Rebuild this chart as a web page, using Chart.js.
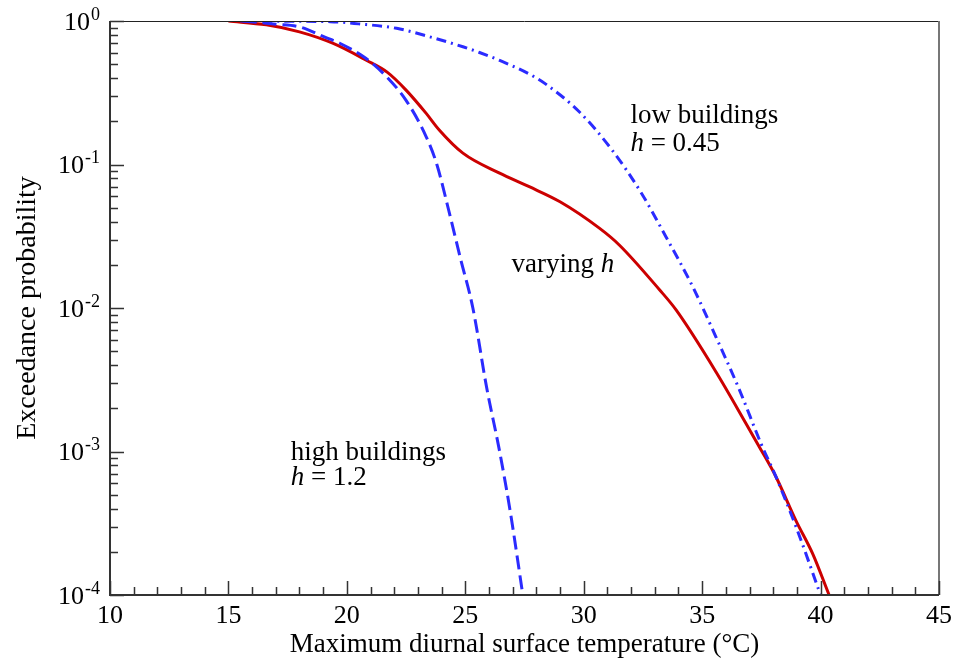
<!DOCTYPE html>
<html>
<head>
<meta charset="utf-8">
<script src="https://cdn.jsdelivr.net/npm/chart.js@4.4.1/dist/chart.umd.min.js"></script>
<style>
  html, body { margin: 0; padding: 0; background: #fff; }
  #wrap { width: 958px; height: 663px; }
</style>
</head>
<body>
<div id="wrap"><canvas id="exceedChart" width="958" height="663"></canvas></div>
<script>
// temperature (degC) and exceedance probability
const varyingT = [15.0, 16.6, 18.0, 19.4, 20.8, 21.7, 22.5, 23.35, 23.9, 24.9, 26.45, 27.7, 29.0, 30.66, 31.5, 33.2, 33.9, 35.58, 36.85, 37.41, 38.11, 38.96, 39.66, 40.36];
const varyingP = [1.0, 0.94, 0.84, 0.70, 0.535, 0.44, 0.33, 0.227, 0.174, 0.12, 0.087, 0.07, 0.055, 0.036, 0.0275, 0.0134, 0.0097, 0.0036, 0.00157, 0.00108, 0.00067, 0.00033, 0.000195, 0.0001];

const highT = [15.6, 17.0, 18.0, 19.0, 19.7, 20.8, 21.67, 22.5, 23.35, 23.8, 24.3, 24.8, 25.32, 25.9, 26.45, 26.9, 27.43];
const highP = [1.0, 0.95, 0.91, 0.78, 0.70, 0.55, 0.41, 0.28, 0.156, 0.1, 0.048, 0.022, 0.01, 0.0028, 0.001, 0.00038, 0.0001];

const lowT = [15.5, 17.5, 19.3, 20.5, 22.1, 23.5, 24.9, 25.6, 26.45, 27.7, 28.4, 29.8, 31.2, 32.4, 33.47, 34.6, 35.58, 36.57, 37.5, 38.11, 38.96, 40.0];
const lowP = [1.0, 0.995, 0.99, 0.955, 0.889, 0.776, 0.661, 0.603, 0.531, 0.427, 0.363, 0.234, 0.126, 0.0646, 0.0314, 0.0141, 0.0063, 0.0027, 0.00112, 0.00067, 0.0003, 0.0001];

const xTicks = [];
for (let t = 10; t <= 45; t++) xTicks.push(t);
const yMajor = [1, 0.1, 0.01, 0.001, 0.0001];
const yExp = ['0', '-1', '-2', '-3', '-4'];

const notes = [
  { x: 31.97, y: 0.1946, lines: [['low buildings']], },
  { x: 31.97, y: 0.124, lines: [['h', true], [' = 0.45']] },
  { x: 26.95, y: 0.0178, lines: [['varying '], ['h', true]] },
  { x: 17.63, y: 0.00087, lines: [['high buildings']] },
  { x: 17.63, y: 0.000585, lines: [['h', true], [' = 1.2']] }
];

const pts = (xs, ys) => xs.map((x, i) => ({ x: x, y: ys[i] }));
const SERIF = '"Liberation Serif", "Times New Roman", serif';

const yMinor = [];
for (let k = -4; k < 0; k++) {
  for (let m = 1; m <= 9; m++) yMinor.push(m * Math.pow(10, k));
}
yMinor.push(1);

const framePlugin = {
  id: 'frame',
  afterDraw(chart) {
    const { ctx, chartArea: a, scales } = chart;
    const xs = scales.x, ys = scales.y;
    ctx.save();
    // top and right borders
    ctx.strokeStyle = '#222';
    ctx.lineWidth = 1;
    ctx.beginPath(); ctx.moveTo(a.left, a.top + 0.5); ctx.lineTo(a.right, a.top + 0.5); ctx.stroke();
    ctx.strokeStyle = '#777';
    ctx.lineWidth = 2;
    ctx.beginPath(); ctx.moveTo(a.right, a.top); ctx.lineTo(a.right, a.bottom); ctx.stroke();
    // left and bottom axes
    ctx.strokeStyle = '#333';
    ctx.lineWidth = 2;
    ctx.beginPath(); ctx.moveTo(a.left, a.top); ctx.lineTo(a.left, a.bottom); ctx.lineTo(a.right, a.bottom); ctx.stroke();
    // inward ticks
    ctx.lineWidth = 1.5;
    ctx.strokeStyle = '#333';
    ctx.beginPath();
    yMinor.forEach(v => {
      const y = Math.round(ys.getPixelForValue(v)) + 0.5;
      const major = yMajor.some(m => Math.abs(m - v) / m < 1e-6);
      ctx.moveTo(a.left, y); ctx.lineTo(a.left + (major ? 14 : 8), y);
    });
    xTicks.forEach(t => {
      const x = Math.round(xs.getPixelForValue(t)) + 0.5;
      ctx.moveTo(x, a.bottom); ctx.lineTo(x, a.bottom - (t % 5 === 0 ? 14 : 8));
    });
    ctx.stroke();
    // y tick labels 10^k
    ctx.fillStyle = '#000';
    ctx.textBaseline = 'middle';
    yMajor.forEach((v, i) => {
      const y = ys.getPixelForValue(v);
      ctx.font = '18px ' + SERIF;
      const ew = ctx.measureText(yExp[i]).width;
      ctx.textAlign = 'left';
      ctx.fillText(yExp[i], 100 - ew, y - 6);
      ctx.font = '26px ' + SERIF;
      ctx.textAlign = 'right';
      ctx.fillText('10', 100 - ew - 1, y + 2);
    });
    // annotations
    ctx.textBaseline = 'alphabetic';
    ctx.textAlign = 'left';
    notes.forEach(n => {
      let x = xs.getPixelForValue(n.x);
      const y = ys.getPixelForValue(n.y);
      n.lines.forEach(seg => {
        ctx.font = (seg[1] ? 'italic ' : '') + '27px ' + SERIF;
        ctx.fillText(seg[0], x, y);
        x += ctx.measureText(seg[0]).width;
      });
    });
    ctx.restore();
  }
};

new Chart(document.getElementById('exceedChart'), {
  type: 'line',
  data: {
    datasets: [
      {
        label: 'low buildings',
        data: pts(lowT, lowP),
        borderColor: '#2b2bff',
        borderWidth: 3,
        borderDash: [10, 5, 2, 5],
        pointRadius: 0,
        cubicInterpolationMode: 'monotone'
      },
      {
        label: 'high buildings',
        data: pts(highT, highP),
        borderColor: '#2b2bff',
        borderWidth: 3,
        borderDash: [14, 6],
        pointRadius: 0,
        cubicInterpolationMode: 'monotone'
      },
      {
        label: 'varying h',
        data: pts(varyingT, varyingP),
        borderColor: '#cc0000',
        borderWidth: 3,
        pointRadius: 0,
        cubicInterpolationMode: 'monotone'
      }
    ]
  },
  options: {
    responsive: false,
    animation: false,
    layout: { padding: { top: 21, right: 18, left: 0, bottom: 0 } },
    plugins: { legend: { display: false }, tooltip: { enabled: false } },
    scales: {
      x: {
        type: 'linear',
        min: 10,
        max: 45,
        afterBuildTicks: s => { s.ticks = xTicks.map(v => ({ value: v })); },
        afterFit: s => { s.height = 68; },
        grid: { display: false, drawTicks: false },
        border: { display: false },
        ticks: {
          autoSkip: false,
          maxRotation: 0,
          padding: 6,
          color: '#000',
          font: { family: SERIF, size: 26 },
          callback: v => (v % 5 === 0 ? String(v) : '')
        },
        title: {
          display: true,
          text: 'Maximum diurnal surface temperature (°C)',
          color: '#000',
          font: { family: SERIF, size: 27 },
          padding: { top: 0, bottom: 2 }
        }
      },
      y: {
        type: 'logarithmic',
        min: 0.0001,
        max: 1,
        afterBuildTicks: s => { s.ticks = yMajor.map(v => ({ value: v })); },
        afterFit: s => { s.width = 110; },
        grid: { display: false, drawTicks: false },
        border: { display: false },
        ticks: { display: false },
        title: {
          display: true,
          text: 'Exceedance probability',
          color: '#000',
          font: { family: SERIF, size: 28 },
          padding: { top: 11, bottom: 0 }
        }
      }
    }
  },
  plugins: [framePlugin]
});
</script>
</body>
</html>
